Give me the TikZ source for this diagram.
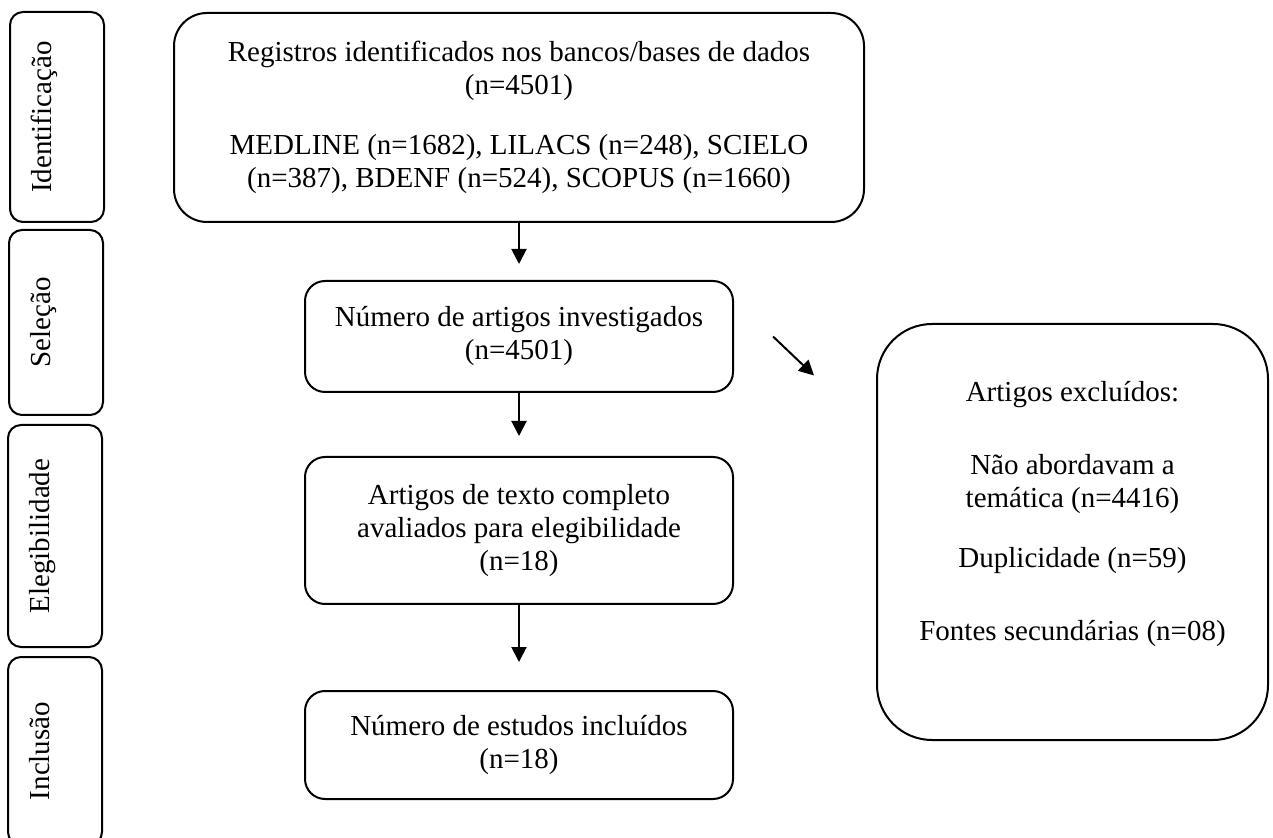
\documentclass[tikz,border=0pt]{standalone}
\usepackage{fontspec}
\setmainfont{Liberation Serif}
\usetikzlibrary{arrows.meta,positioning,calc}

\begin{document}
\begin{tikzpicture}[
    x=0.5pt, y=-0.5pt,
    font=\fontsize{14.5pt}{16.5pt}\selectfont,
    fase/.style={draw, line width=1pt, rounded corners=6.5pt, rotate=90,
                 minimum height=47pt, inner sep=0pt, text height=10pt, text depth=16pt},
    box/.style={draw, line width=1pt, rounded corners=10pt, align=center,
                minimum width=214pt, inner sep=0pt},
    fl/.style={-{Triangle[length=7.5pt,width=7.5pt]}, line width=1pt}
  ]
  \useasboundingbox (0,0) rectangle (1273,838);
  % fases
  \node[fase, minimum width=105pt] (f1) at (57,117) {Identificação};
  \node[fase, minimum width=92.5pt] (f2) at (56,322.5) {Seleção};
  \node[fase, minimum width=111pt] (f3) at (55,536) {Elegibilidade};
  \node[fase, minimum width=94pt] (f4) at (55,751) {Inclusão};
  % fluxo
  \node[box, minimum width=345pt, minimum height=104.5pt, rounded corners=16.5pt] (b1) at (519,117.5) {Registros identificados nos bancos/bases de dados\\(n=4501)\\[13.5pt]MEDLINE (n=1682), LILACS (n=248), SCIELO\\(n=387), BDENF (n=524), SCOPUS (n=1660)};
  \node[box, minimum height=55.5pt, below=28.5pt of b1] (b2) {Número de artigos investigados\\(n=4501)};
  \node[box, minimum height=73.5pt, below=31.5pt of b2] (b3) {Artigos de texto completo\\avaliados para elegibilidade\\(n=18)};
  \node[box, minimum height=54pt, below=42.5pt of b3] (b4) {Número de estudos incluídos\\(n=18)};
  \node[box, minimum width=195.5pt, minimum height=208pt, rounded corners=27.5pt] (excl) at (1072.5,532) {Artigos excluídos:\\[20pt]Não abordavam a\\temática (n=4416)\\[13.5pt]Duplicidade (n=59)\\[20pt]Fontes secundárias (n=08)\\[5pt]};
  \draw[fl, shorten >=8pt] (b1) -- (b2);
  \draw[fl, shorten >=10pt] (b2) -- (b3);
  \draw[fl, shorten >=14pt] (b3) -- (b4);
  \coordinate (d1) at ($(b2.east)+(39,0)$);
  \coordinate (d2) at ($(b2.east)+(80,39)$);
  \draw[fl] (d1) -- (d2);
\end{tikzpicture}
\end{document}
